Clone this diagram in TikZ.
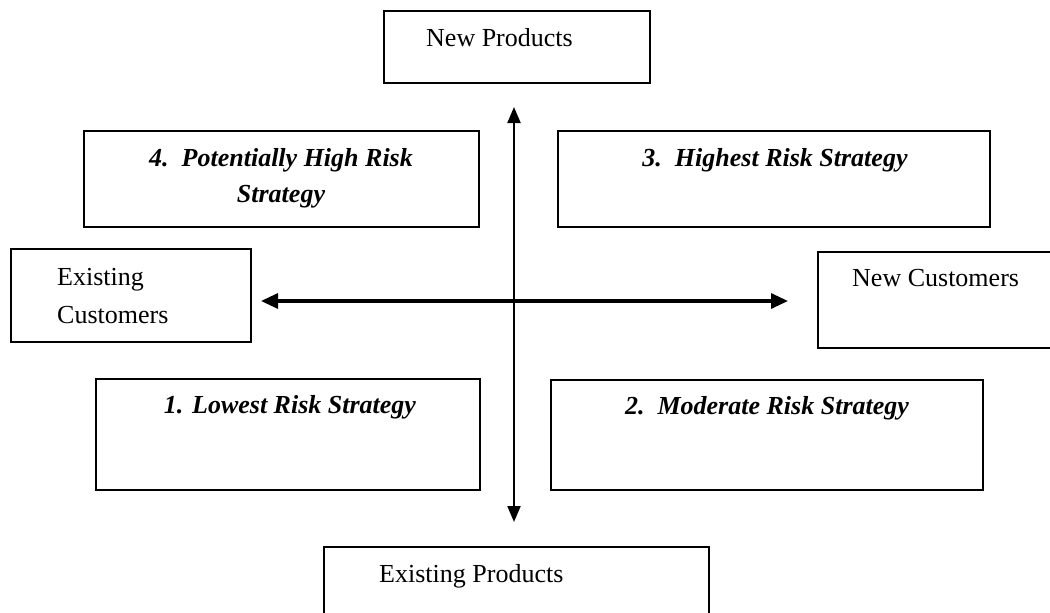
\documentclass[tikz,border=0pt]{standalone}
\usepackage{fontspec}
\setmainfont{Liberation Serif}
\usetikzlibrary{arrows.meta}
\begin{document}
\begin{tikzpicture}[x=1pt,y=-1pt,
  box/.style={draw, line width=1.8pt, rectangle, inner sep=0pt},
  lbl/.style={inner sep=0pt, font=\fontsize{26}{30}\selectfont},
  strat/.style={inner sep=0pt, font=\fontsize{26}{30}\selectfont\bfseries\itshape},
  vaxis/.style={line width=2pt, {Triangle[length=16pt,width=13pt]}-{Triangle[length=16pt,width=13pt]}},
  haxis/.style={line width=3.2pt, {Triangle[length=17pt,width=15pt]}-{Triangle[length=17pt,width=15pt]}}]
\clip (0,0) rectangle (1050,613);
\fill[white] (0,0) rectangle (1050,613);
% boxes
\node[box, minimum width=266pt, minimum height=72pt] (np) at (517,47) {};
\node[box, minimum width=395pt, minimum height=96pt] (b4) at (281.5,179) {};
\node[box, minimum width=432pt, minimum height=96pt] (b3) at (774,179) {};
\node[box, minimum width=240pt, minimum height=93pt] (ec) at (131,295.5) {};
\node[box, minimum width=252pt, minimum height=96pt] (nc) at (944,300) {};
\node[box, minimum width=384pt, minimum height=111pt] (b1) at (288,434.5) {};
\node[box, minimum width=432pt, minimum height=110pt] (b2) at (767,435) {};
\node[box, minimum width=385pt, minimum height=93pt] (ep) at (516.5,593.5) {};
% texts
\node[lbl, anchor=base west] (tnp) at (426,46) {New Products};
\node[strat, anchor=base] (t4a) at (281,166) {4.\ \ Potentially High Risk};
\node[strat, anchor=base] (t4b) at (281,202) {Strategy};
\node[strat, anchor=base] (t3) at (775,166) {3.\ \ Highest Risk Strategy};
\node[lbl, anchor=base west] (tec1) at (57,285) {Existing};
\node[lbl, anchor=base west] (tec2) at (57,323) {Customers};
\node[lbl, anchor=base west] (tnc) at (852,286) {New Customers};
\node[strat, anchor=base] (t1) at (290,413) {1. Lowest Risk Strategy};
\node[strat, anchor=base] (t2) at (767,414) {2.\ \ Moderate Risk Strategy};
\node[lbl, anchor=base west] (tep) at (379,582) {Existing Products};
% axes
\coordinate (vtop) at (514,107);
\coordinate (vbot) at (514,522);
\coordinate (hl) at (261,301);
\coordinate (hr) at (788,301);
\draw[vaxis] (vbot) -- (vtop);
\draw[haxis] (hl) -- (hr);
\end{tikzpicture}
\end{document}
